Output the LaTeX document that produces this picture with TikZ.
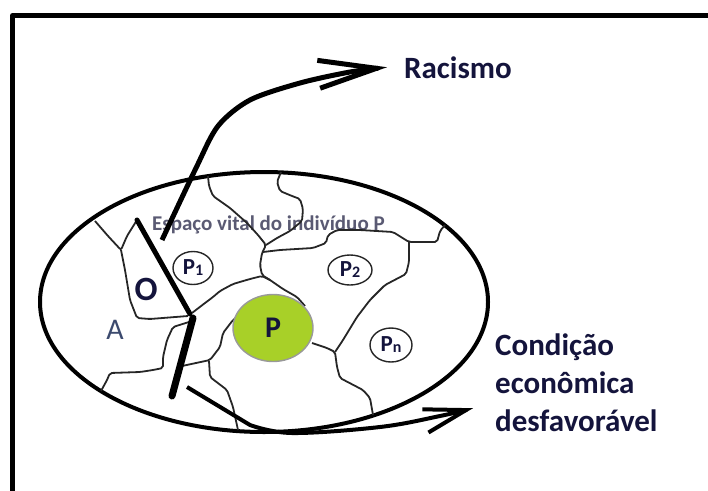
\documentclass[tikz,border=0pt]{standalone}
\usepackage{fontspec}
\setmainfont{Carlito}
\usetikzlibrary{arrows.meta,shapes.geometric}

\definecolor{limeP}{RGB}{168,208,40}
\definecolor{inkblue}{RGB}{20,20,60}
\definecolor{slate}{RGB}{60,74,110}
\definecolor{haze}{RGB}{90,90,115}

\newcommand{\sizedfont}[1]{\fontsize{#1}{#1}\selectfont}
\newcommand{\psub}[1]{P\raisebox{-1pt}{\sizedfont{16}#1}}

\begin{document}
\begin{tikzpicture}[x=1pt, y=-1pt, line join=round,
    border/.style={line width=1.8pt, draw=black!85, rounded corners=2pt},
    divider/.style={line width=#1, line cap=round},
    member/.style={ellipse, draw=black!85, line width=1.4pt, fill=white, inner sep=0pt,
        minimum width=40pt, minimum height=33pt, text=inkblue, font=\sizedfont{23}\bfseries},
    tag/.style={text=inkblue, font=\fontsize{31}{38}\selectfont\bfseries, inner sep=2pt, align=left},
    tipR/.style={-{Straight Barb[length=58pt, width=28pt]}},
    tipC/.style={-{Straight Barb[length=42pt, width=24pt]}}]

    \useasboundingbox (0,0) rectangle (708,490);

    %%% Frame and environment
    \draw[line width=5pt] (12.5,495) -- (12.5,15.5) -- (712,15.5);
    \draw[line width=4pt] (264,302) ellipse [x radius=224pt, y radius=130pt];

    % texts under the borders
    \node[text=haze, font=\sizedfont{21}\bfseries, anchor=base west, inner sep=0pt] (espaco) at (152,230) {Espaço vital do indivíduo P};
    \node[text=inkblue, font=\sizedfont{34}\bfseries] (lblO) at (146,289) {O};
    \node[text=slate, font=\sizedfont{30}] (lblA) at (115,330) {A};

    %%% Borders between the regions
    \draw[border] (95,221) -- (108,236) -- (121,250) -- (127,236) -- (137,220);
    \draw[border] (121,250) -- (125,270) -- (127,282) -- (130,300) -- (137,318) -- (150,319) -- (188,316);
    \draw[border] (192,313) -- (205,303) -- (213,297) -- (220,291) -- (233,284) -- (250,279) -- (262,276) -- (270,280);
    \draw[border] (208,176) -- (209,186) -- (213,196) -- (230,208) -- (247,223) -- (258,235) -- (266,245)
        -- (262,253) -- (260,265) -- (262,275) -- (270,280) -- (283,289) -- (297,297) -- (305,306);
    \draw[border] (281,172) -- (277,182) -- (280,191) -- (292,196) -- (300,199) -- (303,209) -- (302,221)
        -- (290,231) -- (277,238) -- (266,245);
    \draw[border] (263,252) -- (280,250) -- (313,248) -- (326,243) -- (328,235) -- (337,230) -- (360,230)
        -- (393,232) -- (409,242) -- (437,242) -- (440,231) -- (445,225);
    \draw[border] (409,242) -- (409,262) -- (406,274) -- (385,285) -- (370,300) -- (357,317) -- (343,340) -- (335,352);
    \draw[border] (312,343) -- (327,348) -- (335,352) -- (337,367) -- (340,378) -- (363,390) -- (370,398) -- (373,415);
    \draw[border] (182,366) -- (210,360) -- (220,347) -- (223,333) -- (233,320) -- (238,316);
    \draw[border] (209,361) -- (210,377) -- (227,390) -- (233,407) -- (238,430);
    \draw[border] (189,322) -- (173,327) -- (167,340) -- (163,357) -- (163,368) -- (153,370) -- (140,372)
        -- (110,373) -- (107,380) -- (101,391);

    %%% Individuals
    \node[member] (p1) at (193,268) {\psub{1}};
    \node[member, minimum width=44pt, minimum height=30pt] (p2) at (350,270) {\psub{2}};
    \node[member, minimum width=42pt, minimum height=34pt] (pn) at (391,345) {\psub{n}};
    \node[member, draw=black!40, fill=limeP, minimum width=80pt, minimum height=67pt,
        font=\sizedfont{30}\bfseries] (p) at (273,328) {P};

    % barriers
    \draw[divider=5pt] (137,220) -- (190,314);
    \draw[divider=7pt] (193,318) -- (172,396);

    %%% Forces
    \node[tag, anchor=base west] (racismo) at (402,78) {Racismo};
    \node[tag, anchor=north west] (cond) at (493,332) {Condição\\econômica\\desfavorável};

    \coordinate (rs) at (162,240);
    \coordinate (cs) at (187,387);
    \coordinate (rtip) at ([xshift=-15pt]racismo.west);
    \coordinate (ctip) at ([xshift=-20pt,yshift=-25pt]cond.west);

    \draw[line width=5pt, tipR] plot[smooth, tension=0.5] coordinates {(rs) (196,168) (218,126) (250,100) (300,83) (350,72) (rtip)};
    \draw[line width=4pt, tipC] (cs) -- plot[smooth, tension=0.6] coordinates {(250,425) (292,433) (380,427) (440,416) (ctip)};

\end{tikzpicture}
\end{document}
